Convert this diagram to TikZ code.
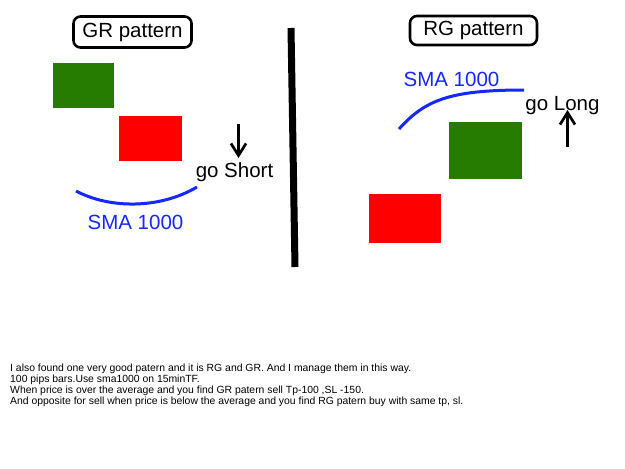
\documentclass[tikz,border=0pt]{standalone}
\usepackage{fontspec}
\setmainfont{Liberation Sans}
\usetikzlibrary{arrows.meta}
\definecolor{candlegreen}{RGB}{38,124,0}
\definecolor{candlered}{RGB}{255,0,0}
\definecolor{smablue}{RGB}{20,40,255}
\tikzset{
  titlebox/.style={draw=black, line width=2.6pt, rounded corners=7pt, inner sep=0pt, font=\fontsize{20.5}{24}\selectfont},
  bigtext/.style={inner sep=0pt, font=\fontsize{20.5}{24}\selectfont},
  smatext/.style={bigtext, text=smablue},
  smaline/.style={draw=smablue, line width=3pt},
  greenbar/.style={fill=candlegreen, draw=none},
  redbar/.style={fill=candlered, draw=none},
  signal/.style={draw=black, line width=2.7pt, -{Straight Barb[length=12pt,width=15pt,line width=2.7pt]}},
  note/.style={inner sep=0pt, anchor=base west, font=\fontsize{10.4}{12}\selectfont}
}
\begin{document}
\begin{tikzpicture}[x=1pt,y=-1pt]
\useasboundingbox (0,0) rectangle (625,469);
\fill[white] (0,0) rectangle (625,469);
% left panel
\node[titlebox, minimum width=118pt, minimum height=31pt] (grbox) at (132.5,32) {GR pattern};
\fill[greenbar] (53,63) rectangle (114,108);
\fill[redbar] (119,116) rectangle (182,161);
\node[bigtext, anchor=base] (short) at (234.5,177) {go Short};
\coordinate (sdtop) at (238.5,124);
\coordinate (sdtip) at (238.5,158);
\draw[signal] (sdtop) -- (sdtip);
\coordinate (sl0) at (76,191);
\coordinate (sl1) at (197,187);
\draw[smaline] (sl0) .. controls (110,209) and (160,209) .. (sl1);
\node[smatext, anchor=base] (smal) at (135.5,229) {SMA 1000};
% divider
\coordinate (dtop) at (291,28);
\coordinate (dbot) at (295,267);
\draw[line width=7pt] (dtop) -- (dbot);
% right panel
\node[titlebox, minimum width=127pt, minimum height=29pt] (rgbox) at (473.5,30.5) {RG pattern};
\node[smatext, anchor=base] (smar) at (451.5,86) {SMA 1000};
\coordinate (sr0) at (399,129);
\coordinate (sr1) at (524,90);
\draw[smaline] (sr0) .. controls (425,100) and (450,90) .. (sr1);
\node[bigtext, anchor=base] (long) at (562.5,110) {go Long};
\coordinate (lubot) at (567.5,147);
\coordinate (lutip) at (567.5,110);
\draw[signal] (lubot) -- (lutip);
\fill[greenbar] (449,122) rectangle (522,179);
\fill[redbar] (369,194) rectangle (441,243);
% notes
\node[note] (t1) at (10,371) {I also found one very good patern and it is RG and GR. And I manage them in this way.};
\node[note] (t2) at (10,382) {100 pips bars.Use sma1000 on 15minTF.};
\node[note] (t3) at (10,393) {When price is over the average and you find GR patern sell Tp-100 ,SL -150.};
\node[note] (t4) at (10,404) {And opposite for sell when price is below the average and you find RG patern buy with same tp, sl.};
\end{tikzpicture}
\end{document}
